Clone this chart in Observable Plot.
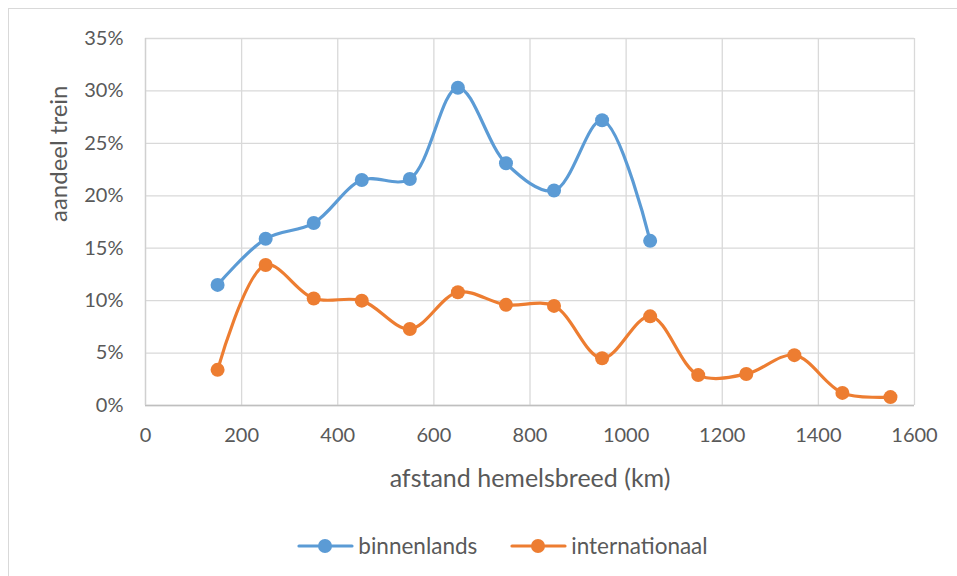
<!DOCTYPE html>
<html>
<head>
<meta charset="utf-8">
<script src="https://cdn.jsdelivr.net/npm/d3@7"></script>
<script src="https://cdn.jsdelivr.net/npm/@observablehq/plot@0.6"></script>
<style>
  html, body { margin: 0; padding: 0; background: #fff; }
  body { width: 957px; height: 576px; overflow: hidden; position: relative; font-family: Lato, "Open Sans", sans-serif; }
  #frame { position: absolute; left: 8px; top: 8px; width: 1000px; height: 1000px; border: 1px solid #d9d9d9; box-sizing: border-box; }
  #chart { position: absolute; left: 0; top: 0; }
  #legend { position: absolute; left: 24px; top: 532px; width: 957px; display: flex; justify-content: center; gap: 33px; font-size: 22.5px; line-height: 28px; color: #595959; }
  .item { display: flex; align-items: center; gap: 4px; }
</style>
</head>
<body>
<div id="frame"></div>
<div id="chart"></div>
<div id="legend"></div>
<script>
const distanceDomestic = [150, 250, 350, 450, 550, 650, 750, 850, 950, 1050];
const shareDomestic = [11.5, 15.9, 17.4, 21.5, 21.6, 30.3, 23.1, 20.5, 27.2, 15.7];
const distanceIntl = [150, 250, 350, 450, 550, 650, 750, 850, 950, 1050, 1150, 1250, 1350, 1450, 1550];
const shareIntl = [3.4, 13.4, 10.2, 10.0, 7.3, 10.8, 9.6, 9.5, 4.5, 8.5, 2.9, 3.0, 4.8, 1.2, 0.8];
const seriesNames = ["binnenlands", "internationaal"];
const seriesColors = ["#5B9BD5", "#ED7D31"];
const xTicks = [0, 200, 400, 600, 800, 1000, 1200, 1400, 1600];
const yTicks = [0, 5, 10, 15, 20, 25, 30, 35];

const data = [
  ...distanceDomestic.map((d, i) => ({series: seriesNames[0], x: d, y: shareDomestic[i]})),
  ...distanceIntl.map((d, i) => ({series: seriesNames[1], x: d, y: shareIntl[i]}))
];

const chart = Plot.plot({
  width: 957,
  height: 510,
  marginLeft: 145,
  marginRight: 43,
  marginTop: 38,
  marginBottom: 105,
  style: {fontFamily: "Lato, 'Open Sans', sans-serif", color: "#595959", background: "transparent"},
  x: {domain: [0, 1600]},
  y: {domain: [0, 35]},
  color: {domain: seriesNames, range: seriesColors},
  marks: [
    Plot.gridX(xTicks, {stroke: "#d9d9d9", strokeOpacity: 1, strokeWidth: 1.3}),
    Plot.gridY(yTicks, {stroke: "#d9d9d9", strokeOpacity: 1, strokeWidth: 1.3}),
    Plot.ruleY([0], {stroke: "#bfbfbf", strokeWidth: 1.5}),
    Plot.ruleX([0], {stroke: "#d0d0d0", strokeWidth: 1.3}),
    Plot.axisY(yTicks, {tickSize: 0, tickPadding: 22, tickFormat: d => d + "%", fontSize: 20, fill: "#595959", label: null}),
    Plot.axisX(xTicks, {tickSize: 0, tickPadding: 22, tickFormat: d => String(d), fontSize: 20, fill: "#595959", label: null}),
    Plot.text(["aandeel trein"], {frameAnchor: "left", dx: -86, rotate: -90, fontSize: 24, fill: "#595959"}),
    Plot.text(["afstand hemelsbreed (km)"], {frameAnchor: "bottom", dy: 81, fontSize: 25, fill: "#595959"}),
    Plot.line(data, {x: "x", y: "y", stroke: "series", z: "series", strokeWidth: 3.2, curve: "catmull-rom"}),
    Plot.dot(data, {x: "x", y: "y", fill: "series", r: 7})
  ]
});
document.getElementById("chart").appendChild(chart);

const legend = document.getElementById("legend");
seriesNames.forEach((name, i) => {
  const item = document.createElement("div");
  item.className = "item";
  item.innerHTML = `<svg width="57" height="20"><line x1="2" y1="10" x2="55" y2="10" stroke="${seriesColors[i]}" stroke-width="3.2" stroke-linecap="round"/><circle cx="28" cy="10" r="7" fill="${seriesColors[i]}"/></svg><span>${name}</span>`;
  legend.appendChild(item);
});
</script>
</body>
</html>
